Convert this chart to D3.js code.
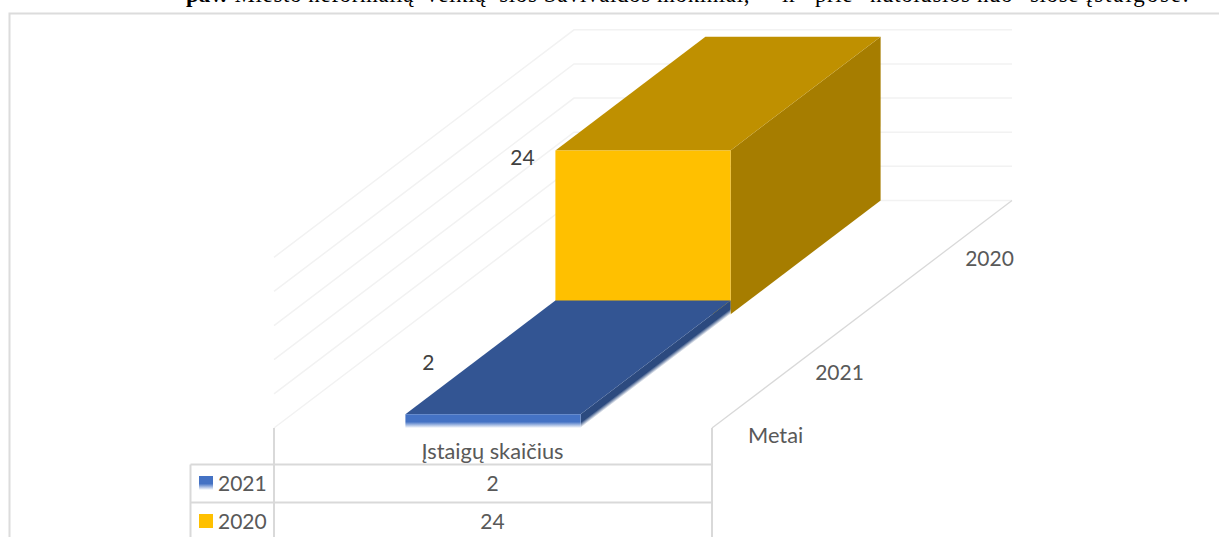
<!DOCTYPE html>
<html lang="lt">
<head>
<meta charset="utf-8">
<style>
  html, body { margin: 0; padding: 0; background: #fff; overflow: hidden; }
  svg { display: block; }
  .lbl { font-family: Lato, "Open Sans", sans-serif; font-size: 21px; fill: #595959; }
  .wide { font-size: 21.8px; }
  .val { fill: #404040; }
  .head { font-family: "Liberation Serif", serif; font-size: 23px; fill: #000; }
</style>
</head>
<body>
<script src="https://cdn.jsdelivr.net/npm/d3@7/dist/d3.min.js"></script>
<script>
// Chart content
const categories = ["Įstaigų skaičius"];
const years = ["2021", "2020"];
const counts = [2, 24];
const valueTicks = [0, 5, 10, 15, 20, 25];
const depthTitle = "Metai";

// Caption line running off the top edge of the page
const captionBold = "pav.";
const captionParts = ["Miesto neformalią", "veiklą", "šios Savivaldos mokiniai,", "ir", "prie", "nutolusios nuo", "šiose", "įstaigose."];
const captionEnds = [414, 486, 750, null, null, null, null, null];
const captionStarts = [null, null, null, 782, 815, 870, 1030, 1086];

// Fill shades for each series: front, top and side faces
const shades = {
  "2021": { front: "#4472c4", top: "#335593", side: "#2c4a7f" },
  "2020": { front: "#ffc000", top: "#bf9000", side: "#a67d00" }
};

const width = 1219, height = 537;
const floorY = 428;

// Oblique projection: band across the front, depth along the floor, value upward
const x = d3.scaleBand(categories, [274, 712]).paddingInner(0.6).paddingOuter(0.3);
const depth = d3.scaleBand(years, [0, 1]);
const depthDX = d3.scaleLinear([0, 1], [0, 300]);
const depthDY = d3.scaleLinear([0, 1], [0, -227.5]);
const value = d3.scaleLinear([0, 25], [0, 170.7]);
const project = (px, d, v) => [px + depthDX(d), floorY + depthDY(d) - value(v)];
const pathOf = pts => d3.line()(pts) + "Z";

const svg = d3.select("body").append("svg").attr("width", width).attr("height", height);
const defs = svg.append("defs");

// Caption: only the bottom of the line is inside the page
svg.append("text").attr("class", "head").attr("x", 186).attr("y", 1.5)
  .attr("font-weight", "bold").text(captionBold);
captionParts.forEach((t, i) => {
  const atEnd = captionEnds[i] !== null;
  svg.append("text").attr("class", "head").attr("y", 1.5)
    .attr("x", atEnd ? captionEnds[i] : captionStarts[i])
    .attr("text-anchor", atEnd ? "end" : "start")
    .attr("letter-spacing", i === captionParts.length - 1 ? 1.8 : 0.6)
    .text(t);
});

// Chart frame
svg.append("path").attr("fill", "none").attr("stroke", "#dcdcdc").attr("stroke-width", 2)
  .attr("d", d3.line()([[9.5, height], [9.5, 13.5], [width, 13.5]]));

// Walls and floor
const x0 = x.range()[0], x1 = x.range()[1];
const wall = svg.append("g").attr("fill", "none").attr("stroke", "#f2f2f2").attr("stroke-width", 1.5);
wall.selectAll("path").data(valueTicks).join("path")
  .attr("d", v => d3.line()([project(x0, 0, v), project(x0, 1, v), project(x1, 1, v)]));
svg.append("path").attr("fill", "none").attr("stroke", "#d9d9d9").attr("stroke-width", 1.3)
  .attr("d", d3.line()([project(x1, 0, 0), project(x1, 1, 0)]));

// Bars, drawn from back to front
const left = x(categories[0]), right = left + x.bandwidth();
const rows = years.map((y, i) => ({ year: y, n: counts[i] })).reverse();

// Lower edge of the 2021 bar fades out to white
const fade = (id, color, p1, p2, stop) => {
  const g = defs.append("linearGradient").attr("id", id).attr("gradientUnits", "userSpaceOnUse")
    .attr("x1", p1[0]).attr("y1", p1[1]).attr("x2", p2[0]).attr("y2", p2[1]);
  g.append("stop").attr("offset", 0).attr("stop-color", color);
  g.append("stop").attr("offset", stop).attr("stop-color", color);
  g.append("stop").attr("offset", 1).attr("stop-color", "#fff");
  return `url(#${id})`;
};

rows.forEach(r => {
  const d0 = depth(r.year), d1 = d0 + depth.bandwidth();
  const s = shades[r.year];
  let frontFill = s.front, sideFill = s.side;
  if (r.year === "2021") {
    const topFront = project(right, d0, r.n), botFront = project(right, d0, 0);
    const b = project(right, d1, 0);
    const ex = b[0] - botFront[0], ey = b[1] - botFront[1], len = Math.hypot(ex, ey);
    const nx = -ey / len, ny = ex / len;
    const span = (botFront[1] - topFront[1]) * ny;
    frontFill = fade("fadeFront", s.front, topFront, botFront, 0.55);
    sideFill = fade("fadeSide", s.side, topFront,
      [topFront[0] + nx * span, topFront[1] + ny * span], 0.6);
  }
  const g = svg.append("g");
  g.append("path").attr("fill", sideFill)
    .attr("d", pathOf([project(right, d0, r.n), project(right, d1, r.n), project(right, d1, 0), project(right, d0, 0)]));
  g.append("path").attr("fill", s.top)
    .attr("d", pathOf([project(left, d0, r.n), project(left, d1, r.n), project(right, d1, r.n), project(right, d0, r.n)]));
  g.append("path").attr("fill", frontFill)
    .attr("d", pathOf([project(left, d0, r.n), project(right, d0, r.n), project(right, d0, 0), project(left, d0, 0)]));
});

// Value labels beside the bars
const labelShift = { "2021": [23, -44], "2020": [-33, 15] };
years.forEach((y, i) => {
  const p = project(left, depth(y), counts[i]);
  svg.append("text").attr("class", "lbl val").attr("text-anchor", "middle")
    .attr("x", p[0] + labelShift[y][0]).attr("y", p[1] + labelShift[y][1])
    .text(counts[i]);
});

// Depth axis labels along the right edge of the floor
years.forEach(y => {
  const p = project(x1, depth(y) + depth.bandwidth() / 2, 0);
  svg.append("text").attr("class", "lbl").attr("text-anchor", "middle")
    .attr("x", p[0] + 52.5).attr("y", p[1] + 8.5).text(y);
});
svg.append("text").attr("class", "lbl wide").attr("x", 748).attr("y", 443).text(depthTitle);

// Data table beneath the chart
const tableLeft = 190.5, rowTop = 464.5, rowH = 38;
const tbl = svg.append("g").attr("fill", "none").attr("stroke", "#d9d9d9").attr("stroke-width", 2);
[x0, x1].forEach(px => tbl.append("path").attr("d", d3.line()([[px, floorY], [px, height]])));
tbl.append("path").attr("d", d3.line()([[tableLeft, rowTop], [tableLeft, height]]));
[0, 1].forEach(i => tbl.append("path")
  .attr("d", d3.line()([[tableLeft, rowTop + i * rowH], [x1, rowTop + i * rowH]])));

const mid = (x0 + x1) / 2;
svg.append("text").attr("class", "lbl wide").attr("text-anchor", "middle")
  .attr("x", mid - 0.5).attr("y", 459).text(categories[0]);

const keyGrad = defs.append("linearGradient").attr("id", "keyFade").attr("x1", 0).attr("y1", 0).attr("x2", 0).attr("y2", 1);
[[0, shades["2021"].front], [0.55, shades["2021"].front], [1, "#fff"]]
  .forEach(([o, c]) => keyGrad.append("stop").attr("offset", o).attr("stop-color", c));

years.forEach((y, i) => {
  const top = rowTop + i * rowH;
  svg.append("rect").attr("x", 199).attr("y", top + 11.5).attr("width", 14).attr("height", 14)
    .attr("fill", y === "2021" ? "url(#keyFade)" : shades[y].front);
  svg.append("text").attr("class", "lbl").attr("x", 218).attr("y", top + 26.5).text(y);
  svg.append("text").attr("class", "lbl").attr("text-anchor", "middle")
    .attr("x", mid - 0.5).attr("y", top + 26.5).text(counts[i]);
});
</script>
</body>
</html>
